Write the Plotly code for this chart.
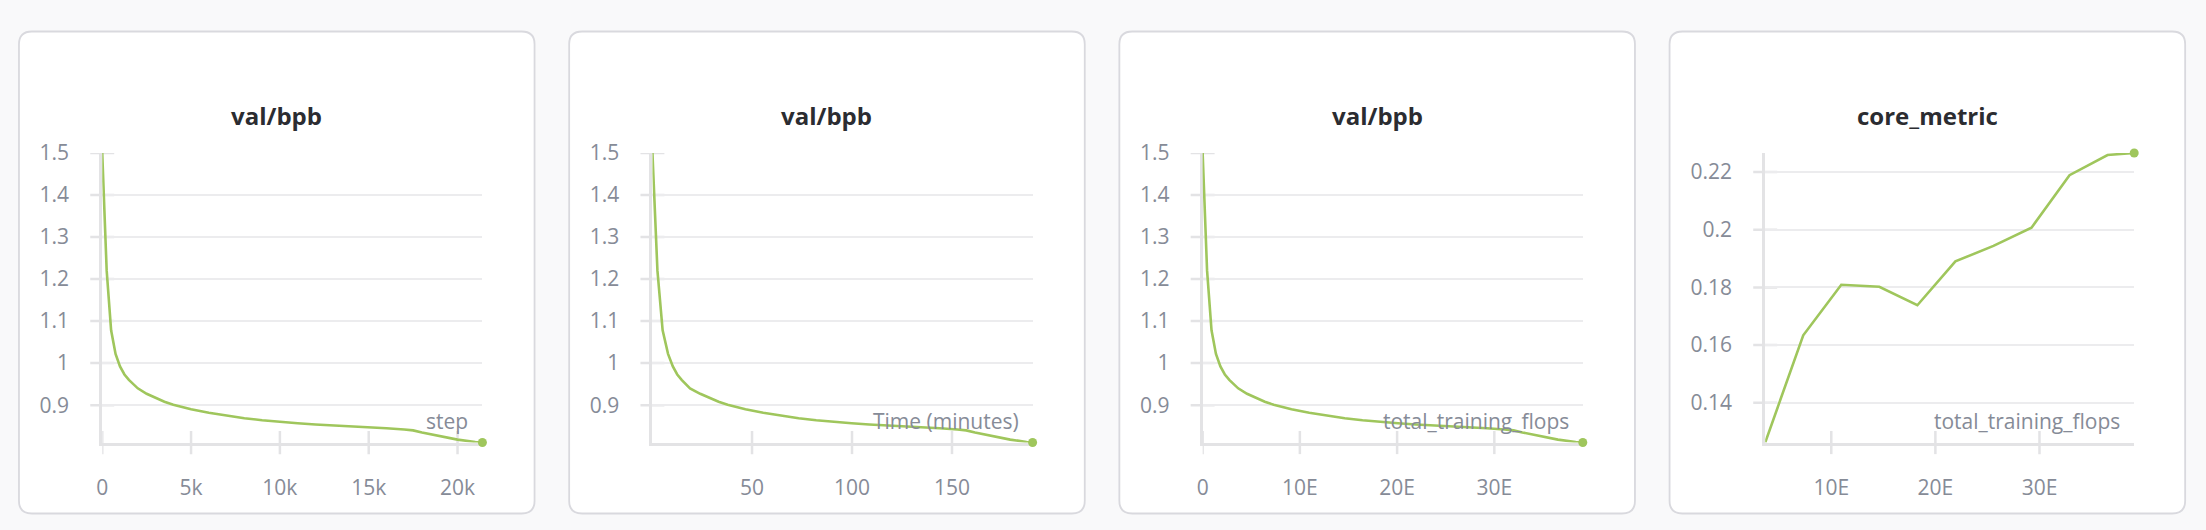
import plotly.graph_objects as go

# ---------------- data ----------------
steps = [0, 250, 500, 750, 1000, 1250, 1500, 1750, 2000, 2500, 3000, 3500, 4000,
         5000, 6000, 7000, 8000, 9000, 10000, 11000, 12000, 13000, 14000, 15000,
         16000, 17000, 17500, 18000, 19000, 20000, 21000, 21400]
val_bpb = [1.500, 1.220, 1.078, 1.022, 0.992, 0.973, 0.960, 0.949, 0.940, 0.927,
           0.917, 0.908, 0.901, 0.890, 0.882, 0.875, 0.869, 0.864, 0.860, 0.857,
           0.854, 0.852, 0.849, 0.847, 0.845, 0.842, 0.840, 0.835, 0.826, 0.818,
           0.8125, 0.811]
time_minutes = [0.2, 2.7, 5.3, 8.0, 10.4, 12.6, 14.8, 16.9, 19.0, 24.1, 28.8, 33.3,
                37.8, 46.7, 55.6, 64.4, 73.3, 82.1, 91.0, 99.8, 108.6, 117.5, 126.3,
                135.1, 143.9, 152.7, 157.1, 161.5, 170.3, 179.1, 187.3, 190.3]
flops_e = [0.0, 0.457, 0.914, 1.370, 1.827, 2.284, 2.741, 3.197, 3.654, 4.568, 5.481,
           6.395, 7.308, 9.135, 10.962, 12.789, 14.616, 16.443, 18.270, 20.097,
           21.924, 23.751, 25.578, 27.405, 29.232, 31.059, 31.973, 32.886, 34.713,
           36.540, 38.367, 39.098]
core_flops_e = [3.654, 7.308, 10.962, 14.616, 18.270, 21.924, 25.578, 29.232,
                32.886, 36.540, 39.098]
core_metric = [0.1262, 0.1634, 0.1809, 0.1802, 0.1738, 0.1890, 0.1944, 0.2007,
               0.2189, 0.2259, 0.2266]

titles = ["val/bpb", "val/bpb", "val/bpb", "core_metric"]
x_labels = ["step", "Time (minutes)", "total_training_flops", "total_training_flops"]

bpb_ticks = [0.9, 1.0, 1.1, 1.2, 1.3, 1.4, 1.5]
bpb_ticktext = ["0.9", "1", "1.1", "1.2", "1.3", "1.4", "1.5"]
core_ticks = [0.14, 0.16, 0.18, 0.20, 0.22]
core_ticktext = ["0.14", "0.16", "0.18", "0.2", "0.22"]
step_ticks = [0, 5000, 10000, 15000, 20000]
step_ticktext = ["0", "5k", "10k", "15k", "20k"]
time_ticks = [50, 100, 150]
time_ticktext = ["50", "100", "150"]
flops_ticks = [0, 10, 20, 30]
flops_ticktext = ["0", "10E", "20E", "30E"]
flops_ticks4 = [10, 20, 30]
flops_ticktext4 = ["10E", "20E", "30E"]

# ---------------- style / layout ----------------
W, H = 2206, 530
GREEN = "#9fc65c"
TICK_GRAY = "#868b97"
AXIS_COL = "#e3e3e5"
GRID_COL = "#ececee"
BG = "#f9f9fa"
FONT = "Open Sans, Noto Sans, sans-serif"
PANEL_DX = 551.7
CARD_X = (13, 530)
CARD_Y = (17, 513)
PLOT_Y = (142, 440)
plot_x = [(96.5, 477.7), (96.5 + PANEL_DX, 477.7 + PANEL_DX),
          (96.5 + 2 * PANEL_DX, 477.7 + 2 * PANEL_DX), (1764, 2134)]

def px(x):
    return x / W

def py(y):
    return 1 - y / H

panels = [
    (steps, val_bpb, step_ticks, step_ticktext, bpb_ticks, bpb_ticktext),
    (time_minutes, val_bpb, time_ticks, time_ticktext, bpb_ticks, bpb_ticktext),
    (flops_e, val_bpb, flops_ticks, flops_ticktext, bpb_ticks, bpb_ticktext),
    (core_flops_e, core_metric, flops_ticks4, flops_ticktext4, core_ticks, core_ticktext),
]

fig = go.Figure()
shapes = []
annotations = []
layout = {}

# cards
r = 13
for i in range(4):
    x0 = CARD_X[0] + i * PANEL_DX
    x1 = CARD_X[1] + i * PANEL_DX
    y0, y1 = CARD_Y
    rx, ry = r / W, r / H
    X0, X1, Y0, Y1 = px(x0), px(x1), py(y1), py(y0)
    path = (f"M {X0+rx},{Y0} L {X1-rx},{Y0} Q {X1},{Y0} {X1},{Y0+ry} "
            f"L {X1},{Y1-ry} Q {X1},{Y1} {X1-rx},{Y1} L {X0+rx},{Y1} "
            f"Q {X0},{Y1} {X0},{Y1-ry} L {X0},{Y0+ry} Q {X0},{Y0} {X0+rx},{Y0} Z")
    shapes.append(dict(type="path", path=path, xref="paper", yref="paper",
                       fillcolor="white", line=dict(color="#d9d9de", width=1.8),
                       layer="below"))

for i, (xs, ys, xt, xtt, yt, ytt) in enumerate(panels):
    n = "" if i == 0 else str(i + 1)
    xa, ya = "x" + n, "y" + n
    fig.add_trace(go.Scatter(x=xs, y=ys, mode="lines", xaxis=xa, yaxis=ya,
                             line=dict(color=GREEN, width=2.6), showlegend=False,
                             hoverinfo="skip"))
    fig.add_trace(go.Scatter(x=[xs[-1]], y=[ys[-1]], mode="markers", xaxis=xa, yaxis=ya,
                             marker=dict(color=GREEN, size=9), showlegend=False,
                             hoverinfo="skip", cliponaxis=False))
    layout["xaxis" + n] = dict(
        domain=[px(plot_x[i][0]), px(plot_x[i][1])], anchor=ya,
        range=[min(xs), max(xs)], tickvals=xt, ticktext=xtt, ticks="",
        showgrid=False, zeroline=False, showline=True, linecolor=AXIS_COL,
        linewidth=3, layer="below traces", ticklabelstandoff=24,
        tickfont=dict(family=FONT, size=21, color=TICK_GRAY), fixedrange=True)
    layout["yaxis" + n] = dict(
        domain=[py(PLOT_Y[1]), py(PLOT_Y[0])], anchor=xa,
        range=[min(ys), max(ys)], tickvals=yt, ticktext=ytt, ticks="",
        showgrid=True, gridcolor=GRID_COL, gridwidth=1.5, zeroline=False,
        showline=True, linecolor=AXIS_COL, linewidth=3, layer="below traces",
        ticklabelstandoff=26,
        tickfont=dict(family=FONT, size=21, color=TICK_GRAY), fixedrange=True)
    # tick marks crossing the axis lines
    for v in xt:
        shapes.append(dict(type="line", xref=xa, yref=ya + " domain", x0=v, x1=v,
                           y0=-0.04, y1=0.04, line=dict(color=AXIS_COL, width=2.5),
                           layer="below"))
    w = plot_x[i][1] - plot_x[i][0]
    for v in yt:
        shapes.append(dict(type="line", xref=xa + " domain", yref=ya, x0=-12 / w,
                           x1=12 / w, y0=v, y1=v, line=dict(color=AXIS_COL, width=2.5),
                           layer="below"))
    # title
    cx = (CARD_X[0] + CARD_X[1]) / 2 + i * PANEL_DX
    annotations.append(dict(text="<b>" + titles[i] + "</b>", xref="paper", yref="paper",
                            x=px(cx), y=py(103), xanchor="center", yanchor="middle",
                            showarrow=False,
                            font=dict(family=FONT, size=24, color="#2b2c31")))
    # x-axis label inside plot
    annotations.append(dict(text=x_labels[i], xref=xa + " domain", yref=ya + " domain",
                            x=1, y=0, xanchor="right", yanchor="bottom", xshift=-12,
                            yshift=6, showarrow=False,
                            font=dict(family=FONT, size=21, color=TICK_GRAY)))

fig.update_layout(width=W, height=H, margin=dict(l=0, r=0, t=0, b=0),
                  paper_bgcolor=BG, plot_bgcolor="rgba(0,0,0,0)",
                  shapes=shapes, annotations=annotations, showlegend=False,
                  **layout)

fig.write_html("out.html", config={"displayModeBar": False},
               post_script="document.body.style.margin='0';"
                           "document.body.style.background='" + BG + "';")
